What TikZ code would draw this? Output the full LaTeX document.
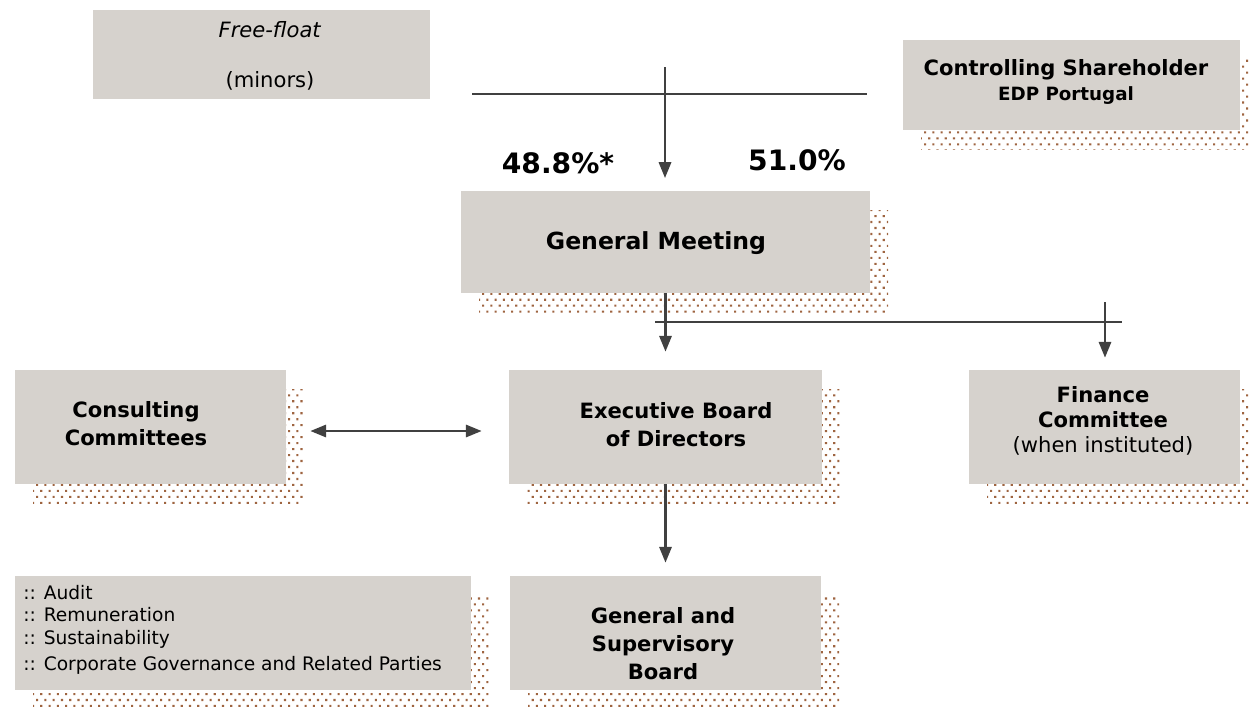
\documentclass[tikz,border=0pt]{standalone}
\usepackage{fontspec}
\setmainfont{DejaVu Sans}
\usepackage{xcolor}
\usepackage{tikz}
\usetikzlibrary{arrows.meta,positioning,calc,shadows,patterns}

\definecolor{boxgray}{HTML}{D6D2CD}
\definecolor{dotbrown}{HTML}{9E6440}
\definecolor{linegray}{HTML}{404040}

% staggered brown dots for the box shadows
\pgfdeclarepatternformonly{shadowdots}{\pgfqpoint{-0.8pt}{-0.8pt}}{\pgfqpoint{3.9pt}{6.0pt}}{\pgfqpoint{4.7pt}{6.8pt}}{%
  \pgfpathrectangle{\pgfqpoint{-0.6pt}{-0.6pt}}{\pgfqpoint{1.2pt}{1.2pt}}%
  \pgfpathrectangle{\pgfqpoint{1.75pt}{2.8pt}}{\pgfqpoint{1.2pt}{1.2pt}}%
  \pgfusepath{fill}}

\begin{document}
\begin{tikzpicture}[
  x=0.2mm,y=-0.2mm,
  every node/.style={inner sep=0pt,align=center},
  box/.style={rectangle,fill=boxgray},
  dotted shade/.style={general shadow={pattern=shadowdots,pattern color=dotbrown,
    shadow xshift=3.6mm,shadow yshift=-3.8mm}},
  title/.style={font=\fontsize{12}{15.9}\selectfont\bfseries},
  plain/.style={font=\fontsize{12}{14.2}\selectfont},
  pct/.style={font=\fontsize{16}{19}\selectfont\bfseries},
  ln/.style={line width=1.3pt,draw=linegray},
  arr/.style={ln,-{Triangle[length=9pt,width=7pt]}},
  darr/.style={ln,{Triangle[length=9pt,width=7pt]}-{Triangle[length=9pt,width=7pt]}}
]
\useasboundingbox (0,0) rectangle (1250,706);

% boxes
\node[box,minimum width=337*0.2mm,minimum height=89*0.2mm] (ff) at (261.5,54.5) {};
\node[box,dotted shade,minimum width=337*0.2mm,minimum height=90*0.2mm] (cs) at (1071.5,85) {};
\node[box,dotted shade,minimum width=409*0.2mm,minimum height=102*0.2mm] (gm) at (665.5,242) {};
\node[box,dotted shade,minimum width=271*0.2mm,minimum height=114*0.2mm] (cc) at (150.5,427) {};
\node[box,dotted shade,minimum width=313*0.2mm,minimum height=114*0.2mm] (eb) at (665.5,427) {};
\node[box,dotted shade,minimum width=271*0.2mm,minimum height=114*0.2mm] (fc) at (1104.5,427) {};
\node[box,dotted shade,minimum width=456*0.2mm,minimum height=114*0.2mm] (lst) at (243,633) {};
\node[box,dotted shade,minimum width=311*0.2mm,minimum height=114*0.2mm] (gsb) at (665.5,633) {};

% texts
\node[plain,font=\fontsize{12}{14.5}\selectfont] (ff-t) at (270,56) {\textit{Free-float}\\[14pt](minors)};
\node[font=\fontsize{12}{14.2}\selectfont\bfseries] (cs-t) at (1066,82) {Controlling Shareholder\\{\fontsize{10.4}{12}\selectfont EDP Portugal}};
\node[font=\fontsize{13.4}{16}\selectfont\bfseries] (gm-t) at (656,243) {General Meeting};
\node[title] (cc-t) at (136,424) {Consulting\\Committees};
\node[title] (eb-t) at (676,425) {Executive Board\\of Directors};
\node[plain] (fc-t) at (1103,421) {\textbf{Finance}\\\textbf{Committee}\\(when instituted)};
\node[title] (gsb-t) at (663,644) {General and\\Supervisory\\Board};
\node[font=\fontsize{10.6}{12.8}\selectfont,align=left,anchor=west] (lst-t) at (23,629.5)
  {:: Audit\\:: Remuneration\\:: Sustainability\\[1.9pt]:: Corporate Governance and Related Parties};
\node[pct] (p-ff) at (558,163) {48.8\%*};
\node[pct] (p-cs) at (797,160) {51.0\%};

% connectors
\coordinate (ff-r) at (472,94);
\coordinate (cs-l) at (867,94);
\coordinate (top) at (665,67);
\coordinate (top-tip) at (665,178);
\draw[ln] (ff-r) -- (cs-l);
\draw[arr] (top) -- (top-tip);

\draw[arr,shorten >=3.6mm] (gm) -- (eb);
\coordinate (sp-l) at (655,322);
\coordinate (sp-r) at (1122,322);
\coordinate (fc-in) at (1105,302);
\draw[ln] (sp-l) -- (sp-r);
\draw[arr,shorten >=2.4mm] (fc-in) -- (fc.north -| fc-in);

\draw[darr,shorten <=4.8mm,shorten >=5.4mm] ([yshift=-0.8mm]cc.east) -- ([yshift=-0.8mm]eb.west);
\draw[arr,shorten >=2.6mm] (eb) -- (gsb);
\end{tikzpicture}
\end{document}
